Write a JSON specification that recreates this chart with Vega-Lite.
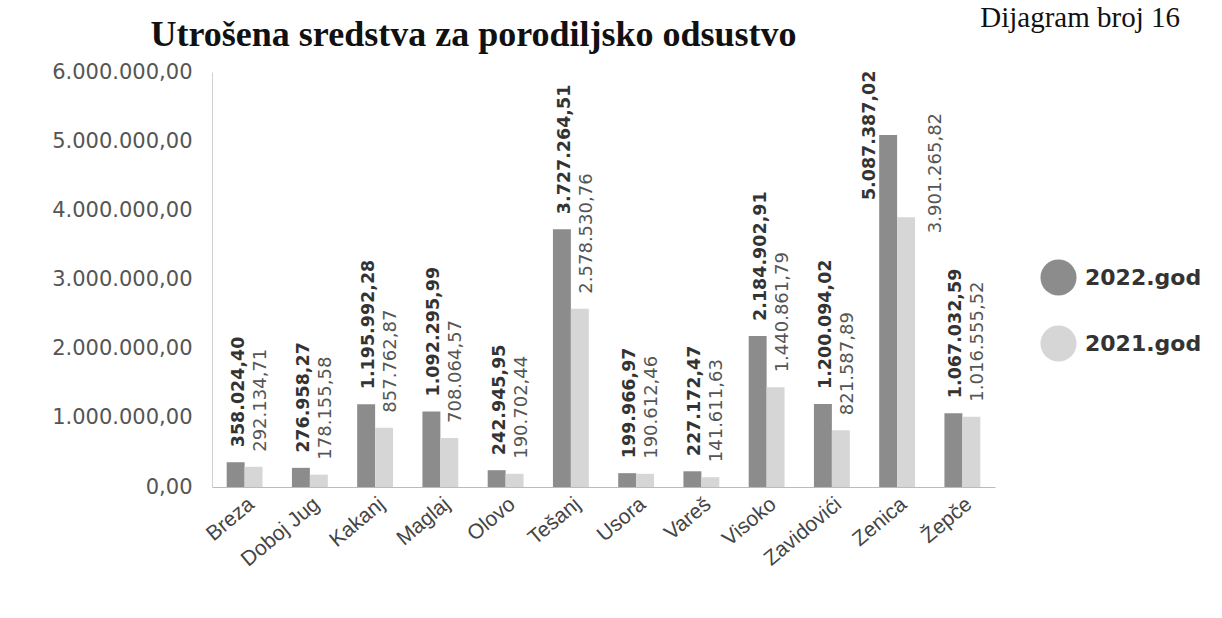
{
  "$schema": "https://vega.github.io/schema/vega-lite/v6.json",
  "autosize": {"type": "none"},
  "width": 783,
  "height": 415,
  "padding": {"left": 212, "top": 72, "right": 227, "bottom": 131},
  "background": "white",
  "config": {
    "view": {"stroke": null},
    "locale": {"number": {"decimal": ",", "thousands": ".", "grouping": [3], "currency": ["", ""]}}
  },
  "title": {
    "text": "Dijagram broj 16",
    "frame": "group",
    "anchor": "end",
    "dx": 185,
    "offset": -40,
    "baseline": "alphabetic",
    "font": "Liberation Serif",
    "fontSize": 29,
    "fontWeight": "normal",
    "color": "#111111"
  },
  "data": {
    "values": [
      {"opcina": "Breza", "godina": "2022.god", "iznos": 358024.40},
      {"opcina": "Breza", "godina": "2021.god", "iznos": 292134.71},
      {"opcina": "Doboj Jug", "godina": "2022.god", "iznos": 276958.27},
      {"opcina": "Doboj Jug", "godina": "2021.god", "iznos": 178155.58},
      {"opcina": "Kakanj", "godina": "2022.god", "iznos": 1195992.28},
      {"opcina": "Kakanj", "godina": "2021.god", "iznos": 857762.87},
      {"opcina": "Maglaj", "godina": "2022.god", "iznos": 1092295.99},
      {"opcina": "Maglaj", "godina": "2021.god", "iznos": 708064.57},
      {"opcina": "Olovo", "godina": "2022.god", "iznos": 242945.95},
      {"opcina": "Olovo", "godina": "2021.god", "iznos": 190702.44},
      {"opcina": "Tešanj", "godina": "2022.god", "iznos": 3727264.51},
      {"opcina": "Tešanj", "godina": "2021.god", "iznos": 2578530.76},
      {"opcina": "Usora", "godina": "2022.god", "iznos": 199966.97},
      {"opcina": "Usora", "godina": "2021.god", "iznos": 190612.46},
      {"opcina": "Vareš", "godina": "2022.god", "iznos": 227172.47},
      {"opcina": "Vareš", "godina": "2021.god", "iznos": 141611.63},
      {"opcina": "Visoko", "godina": "2022.god", "iznos": 2184902.91},
      {"opcina": "Visoko", "godina": "2021.god", "iznos": 1440861.79},
      {"opcina": "Zavidovići", "godina": "2022.god", "iznos": 1200094.02},
      {"opcina": "Zavidovići", "godina": "2021.god", "iznos": 821587.89},
      {"opcina": "Zenica", "godina": "2022.god", "iznos": 5087387.02},
      {"opcina": "Zenica", "godina": "2021.god", "iznos": 3901265.82},
      {"opcina": "Žepče", "godina": "2022.god", "iznos": 1067032.59},
      {"opcina": "Žepče", "godina": "2021.god", "iznos": 1016555.52}
    ]
  },
  "encoding": {
    "x": {
      "field": "opcina",
      "type": "nominal",
      "sort": null,
      "scale": {"paddingInner": 0.45, "paddingOuter": 0.225}
    },
    "xOffset": {
      "field": "godina",
      "type": "nominal",
      "sort": ["2022.god", "2021.god"],
      "scale": {"paddingInner": 0}
    },
    "y": {
      "field": "iznos",
      "type": "quantitative",
      "scale": {"domain": [0, 6000000], "nice": false},
      "axis": {
        "title": null,
        "values": [0, 1000000, 2000000, 3000000, 4000000, 5000000, 6000000],
        "format": ",.2f",
        "grid": false,
        "ticks": false,
        "domain": true,
        "domainColor": "#d0d0d0",
        "labelFont": "DejaVu Sans",
        "labelFontSize": 21,
        "labelColor": "#555555",
        "labelPadding": 20
      }
    }
  },
  "layer": [
    {
      "mark": {"type": "bar"},
      "encoding": {
        "color": {
          "field": "godina",
          "type": "nominal",
          "sort": ["2022.god", "2021.god"],
          "scale": {"domain": ["2022.god", "2021.god"], "range": ["#8c8c8c", "#d6d6d6"]},
          "legend": {
            "title": null,
            "orient": "none",
            "legendX": 828,
            "legendY": 187,
            "symbolType": "circle",
            "symbolSize": 1300,
            "symbolStrokeWidth": 0,
            "rowPadding": 29,
            "labelFont": "DejaVu Sans",
            "labelFontSize": 22,
            "labelFontWeight": "bold",
            "labelColor": "#333333",
            "labelOffset": 8,
            "padding": 0
          }
        },
        "x": {
          "field": "opcina",
          "type": "nominal",
          "sort": null,
          "axis": {
            "title": null,
            "orient": "bottom",
            "labelAngle": -40,
            "labelFont": "Liberation Sans",
            "labelFontSize": 21,
            "labelColor": "#444444",
            "labelPadding": 6,
            "ticks": false,
            "domainColor": "#bbbbbb",
            "grid": false
          }
        }
      }
    },
    {
      "transform": [{"filter": "datum.godina === '2022.god' && datum.opcina !== 'Zenica'"}],
      "mark": {
        "type": "text",
        "angle": 270,
        "align": "left",
        "baseline": "middle",
        "dx": 15,
        "dy": 3,
        "font": "DejaVu Sans",
        "fontSize": 17.5,
        "fontWeight": "bold",
        "color": "#333333"
      },
      "encoding": {
        "text": {"field": "iznos", "type": "quantitative", "format": ",.2f"},
        "x": {
          "field": "opcina",
          "type": "nominal",
          "sort": null,
          "axis": {
            "orient": "top",
            "title": "Utrošena sredstva za porodiljsko odsustvo",
            "titleX": -62,
            "titleY": -27,
            "titleAlign": "left",
            "titleAnchor": null,
            "titleBaseline": "alphabetic",
            "titleFont": "Liberation Serif",
            "titleFontSize": 36,
            "titleFontWeight": "bold",
            "titleColor": "#111111",
            "labels": false,
            "ticks": false,
            "domain": false,
            "grid": false
          }
        }
      }
    },
    {
      "transform": [{"filter": "datum.godina === '2021.god' && datum.opcina !== 'Zenica'"}],
      "mark": {
        "type": "text",
        "angle": 270,
        "align": "left",
        "baseline": "middle",
        "dx": 15,
        "dy": 7,
        "font": "DejaVu Sans",
        "fontSize": 18,
        "fontWeight": "normal",
        "color": "#555555"
      },
      "encoding": {
        "text": {"field": "iznos", "type": "quantitative", "format": ",.2f"},
        "x": {"field": "opcina", "type": "nominal", "sort": null, "axis": null}
      }
    },
    {
      "transform": [{"filter": "datum.godina === '2022.god' && datum.opcina === 'Zenica'"}],
      "mark": {
        "type": "text",
        "angle": 270,
        "align": "left",
        "baseline": "middle",
        "dx": -65,
        "dy": -18,
        "font": "DejaVu Sans",
        "fontSize": 17.5,
        "fontWeight": "bold",
        "color": "#333333"
      },
      "encoding": {
        "text": {"field": "iznos", "type": "quantitative", "format": ",.2f"},
        "x": {"field": "opcina", "type": "nominal", "sort": null, "axis": null}
      }
    },
    {
      "transform": [{"filter": "datum.godina === '2021.god' && datum.opcina === 'Zenica'"}],
      "mark": {
        "type": "text",
        "angle": 270,
        "align": "left",
        "baseline": "middle",
        "dx": -16,
        "dy": 30,
        "font": "DejaVu Sans",
        "fontSize": 18,
        "fontWeight": "normal",
        "color": "#555555"
      },
      "encoding": {
        "text": {"field": "iznos", "type": "quantitative", "format": ",.2f"},
        "x": {"field": "opcina", "type": "nominal", "sort": null, "axis": null}
      }
    }
  ],
  "resolve": {"axis": {"x": "independent"}}
}
